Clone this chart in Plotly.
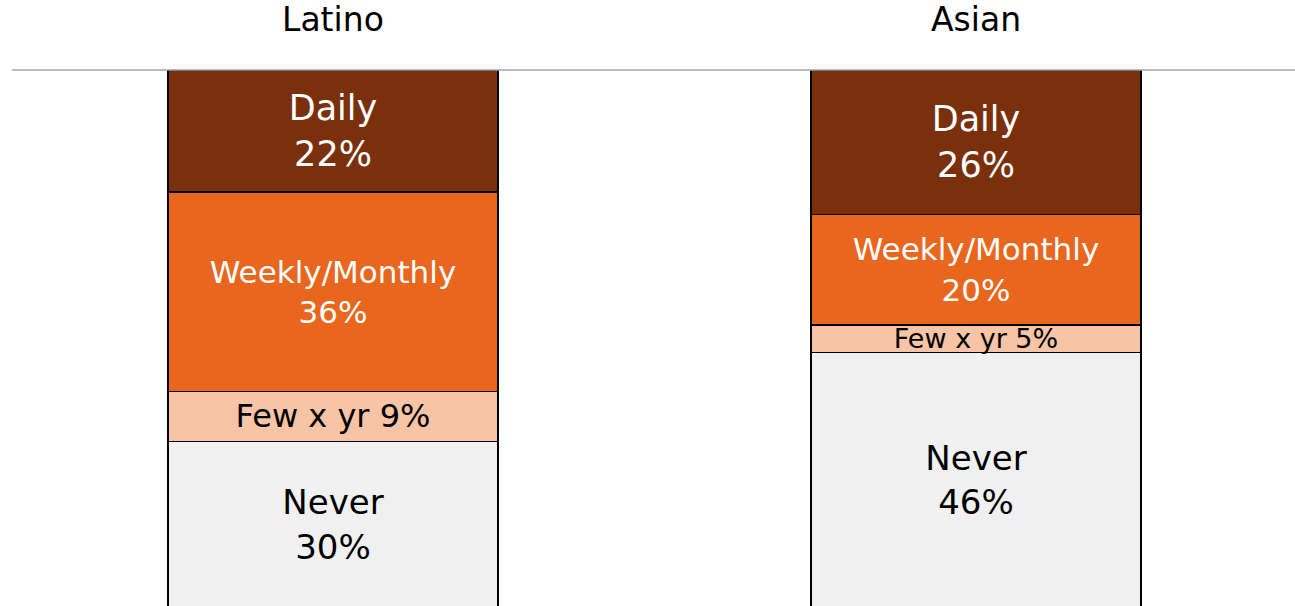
import plotly.graph_objects as go

groups = ["Latino", "Asian"]
categories = ["Never", "Few x yr", "Weekly/Monthly", "Daily"]
never = [30, 46]
few = [9, 5]
weekly = [36, 20]
daily = [22, 26]

series = {"Never": never, "Few x yr": few, "Weekly/Monthly": weekly, "Daily": daily}
colors = {"Never": "#F0F0F0", "Few x yr": "#F7C4A5", "Weekly/Monthly": "#E9661E", "Daily": "#7A300C"}
text_colors = {"Never": "black", "Few x yr": "black", "Weekly/Monthly": "white", "Daily": "white"}
font_sizes = {"Never": [34, 34], "Few x yr": [32, 27], "Weekly/Monthly": [31, 31], "Daily": [35, 35]}

FONT = "DejaVu Sans"

fig = go.Figure()
for cat in categories:
    vals = series[cat]
    if cat == "Few x yr":
        texts = [f"{cat} {v}%" for v in vals]
    else:
        texts = [f"{cat}<br>{v}%" for v in vals]
    fig.add_trace(go.Bar(
        x=groups, y=vals, name=cat,
        marker=dict(color=colors[cat], line=dict(color="black", width=1.2)),
        width=0.513,
        text=texts, textposition="inside", insidetextanchor="middle",
        constraintext="none",
        textfont=dict(family=FONT, color=text_colors[cat], size=font_sizes[cat]),
        hoverinfo="skip",
    ))

for g in groups:
    fig.add_annotation(x=g, y=1 + 50 / 536, xref="x", yref="paper",
                       text=g, showarrow=False, yanchor="middle",
                       font=dict(family=FONT, size=33, color="black"))

fig.add_shape(type="line", xref="paper", yref="paper",
              x0=12 / 1295, x1=1, y0=1, y1=1,
              line=dict(color="#A6A6A6", width=1.5))

fig.update_layout(
    barmode="stack",
    width=1295, height=606,
    margin=dict(l=0, r=0, t=70, b=0),
    paper_bgcolor="white", plot_bgcolor="white",
    showlegend=False,
    hovermode=False,
    xaxis=dict(range=[-333 / 643, (1295 - 333) / 643], visible=False),
    yaxis=dict(range=[0.3, 97], visible=False),
    font=dict(family=FONT),
)

fig.write_html("out.html",
               config={"displayModeBar": False},
               post_script="document.body.style.margin='0';document.body.style.overflow='hidden';")
